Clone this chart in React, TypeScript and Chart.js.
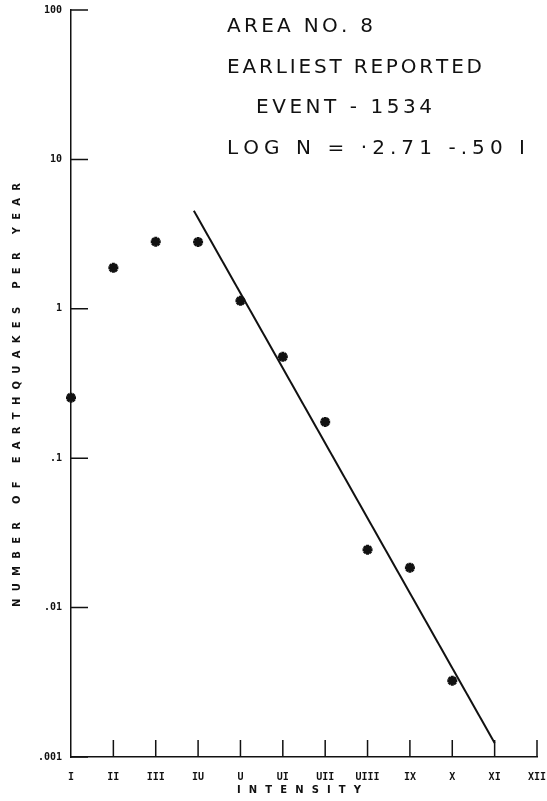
import React, { useEffect, useRef } from "react";
import { Chart, registerables } from "chart.js";

Chart.register(...registerables);

// ---- data ----
const intensityLabels = ["I", "II", "III", "IU", "U", "UI", "UII", "UIII", "IX", "X", "XI", "XII"];
const intensityValues = [1, 2, 3, 4, 5, 6, 7, 8, 9, 10, 11, 12];
const observedIntensity = [1, 2, 3, 4, 5, 6, 7, 8, 9, 10];
const ratePerYear = [0.254, 1.88, 2.81, 2.8, 1.13, 0.477, 0.175, 0.0244, 0.0185, 0.00324];
const fitLineIntensity = [3.9, 11.0];
const fitLineRate = [4.53, 0.00124];
const yTickValues = [0.001, 0.01, 0.1, 1, 10, 100];
const yTickLabels = [".001", ".01", ".1", "1", "10", "100"];
const titleLines = ["AREA NO. 8", "EARLIEST REPORTED", "EVENT - 1534", "LOG N = ·2.71 -.50 I"];
const yAxisTitle = "NUMBER OF EARTHQUAKES PER YEAR";
const xAxisTitle = "INTENSITY";

const INK = "#111111";

function drawSpaced(
  ctx: CanvasRenderingContext2D,
  text: string,
  x: number,
  y: number,
  width: number,
  align: "left" | "center"
) {
  const chars = Array.from(text);
  const widths = chars.map((c) => ctx.measureText(c).width);
  const total = widths.reduce((a, b) => a + b, 0);
  const gap = chars.length > 1 ? (width - total) / (chars.length - 1) : 0;
  let cx = align === "center" ? x - width / 2 : x;
  ctx.textAlign = "left";
  ctx.textBaseline = "middle";
  chars.forEach((c, i) => {
    ctx.fillText(c, cx, y);
    cx += widths[i] + gap;
  });
}

const annotationPlugin = {
  id: "annotations",
  afterDraw(chart: any) {
    const ctx: CanvasRenderingContext2D = chart.ctx;
    const area = chart.chartArea;
    const xs = chart.scales.x;
    const ys = chart.scales.y;
    ctx.save();
    // inward tick marks
    ctx.strokeStyle = INK;
    ctx.lineWidth = 1.5;
    ctx.beginPath();
    yTickValues.forEach((v) => {
      const py = ys.getPixelForValue(v);
      ctx.moveTo(area.left, py);
      ctx.lineTo(area.left + 17, py);
    });
    intensityValues.slice(1).forEach((v) => {
      const px = xs.getPixelForValue(v);
      ctx.moveTo(px, area.bottom);
      ctx.lineTo(px, area.bottom - 17);
    });
    ctx.stroke();

    // top-right annotation block
    ctx.fillStyle = INK;
    ctx.font = "20px 'DejaVu Sans'";
    const blocks = [
      { x: 227, y: 27, w: 146 },
      { x: 227, y: 68, w: 255 },
      { x: 256, y: 108, w: 176 },
      { x: 227, y: 149, w: 298 },
    ];
    titleLines.forEach((t, i) => drawSpaced(ctx, t, blocks[i].x, blocks[i].y, blocks[i].w, "left"));

    // axis titles
    ctx.font = "bold 10px 'DejaVu Sans'";
    drawSpaced(ctx, xAxisTitle, 299, 790, 124, "center");
    ctx.translate(17, 395);
    ctx.rotate(-Math.PI / 2);
    drawSpaced(ctx, yAxisTitle, 0, 0, 424, "center");
    ctx.restore();
  },
};

export default function App() {
  const canvasRef = useRef<HTMLCanvasElement | null>(null);

  useEffect(() => {
    if (!canvasRef.current) return;
    const chart = new Chart(canvasRef.current, {
      type: "scatter",
      data: {
        datasets: [
          {
            label: "Observed",
            data: observedIntensity.map((x, i) => ({ x, y: ratePerYear[i] })),
            pointStyle: "star",
            pointRadius: 5,
            pointBorderWidth: 3,
            borderColor: INK,
            backgroundColor: INK,
            showLine: false,
            clip: false as any,
          },
          {
            label: "Fit",
            data: fitLineIntensity.map((x, i) => ({ x, y: fitLineRate[i] })),
            showLine: true,
            borderColor: INK,
            borderWidth: 2,
            pointRadius: 0,
            clip: false as any,
          },
        ],
      },
      options: {
        animation: false,
        responsive: false,
        devicePixelRatio: 1,
        layout: { padding: { left: 0, top: 10, right: 10, bottom: 0 } },
        plugins: {
          legend: { display: false },
          tooltip: { enabled: false },
          title: { display: false },
        },
        scales: {
          x: {
            type: "linear",
            min: 1,
            max: 12,
            afterBuildTicks: (scale: any) => {
              scale.ticks = intensityValues.map((v) => ({ value: v }));
            },
            afterFit: (scale: any) => {
              scale.height = 44;
              scale.paddingLeft = 0;
              scale.paddingRight = 0;
            },
            ticks: {
              callback: (_v: any, i: number) => intensityLabels[i],
              color: INK,
              padding: 14,
              maxRotation: 0,
              autoSkip: false,
              font: { family: "'DejaVu Sans Mono'", size: 10, weight: "bold" },
            },
            grid: { display: true, drawOnChartArea: false, drawTicks: false },
            border: { display: true, color: INK, width: 1.5 },
          },
          y: {
            type: "logarithmic",
            min: 0.001,
            max: 100,
            afterBuildTicks: (scale: any) => {
              scale.ticks = yTickValues.map((v) => ({ value: v }));
            },
            afterFit: (scale: any) => {
              scale.width = 71;
              scale.paddingTop = 0;
              scale.paddingBottom = 0;
            },
            ticks: {
              callback: (_v: any, i: number) => yTickLabels[i],
              color: INK,
              padding: 9,
              autoSkip: false,
              font: { family: "'DejaVu Sans Mono'", size: 10, weight: "bold" },
            },
            grid: { display: true, drawOnChartArea: false, drawTicks: false },
            border: { display: true, color: INK, width: 1.5 },
          },
        },
      } as any,
      plugins: [annotationPlugin],
    });
    return () => chart.destroy();
  }, []);

  return (
    <div style={{ position: "absolute", left: 0, top: 0, width: 547, height: 801, background: "#fff" }}>
      <canvas ref={canvasRef} width={547} height={801} style={{ width: 547, height: 801, display: "block" }} />
    </div>
  );
}
